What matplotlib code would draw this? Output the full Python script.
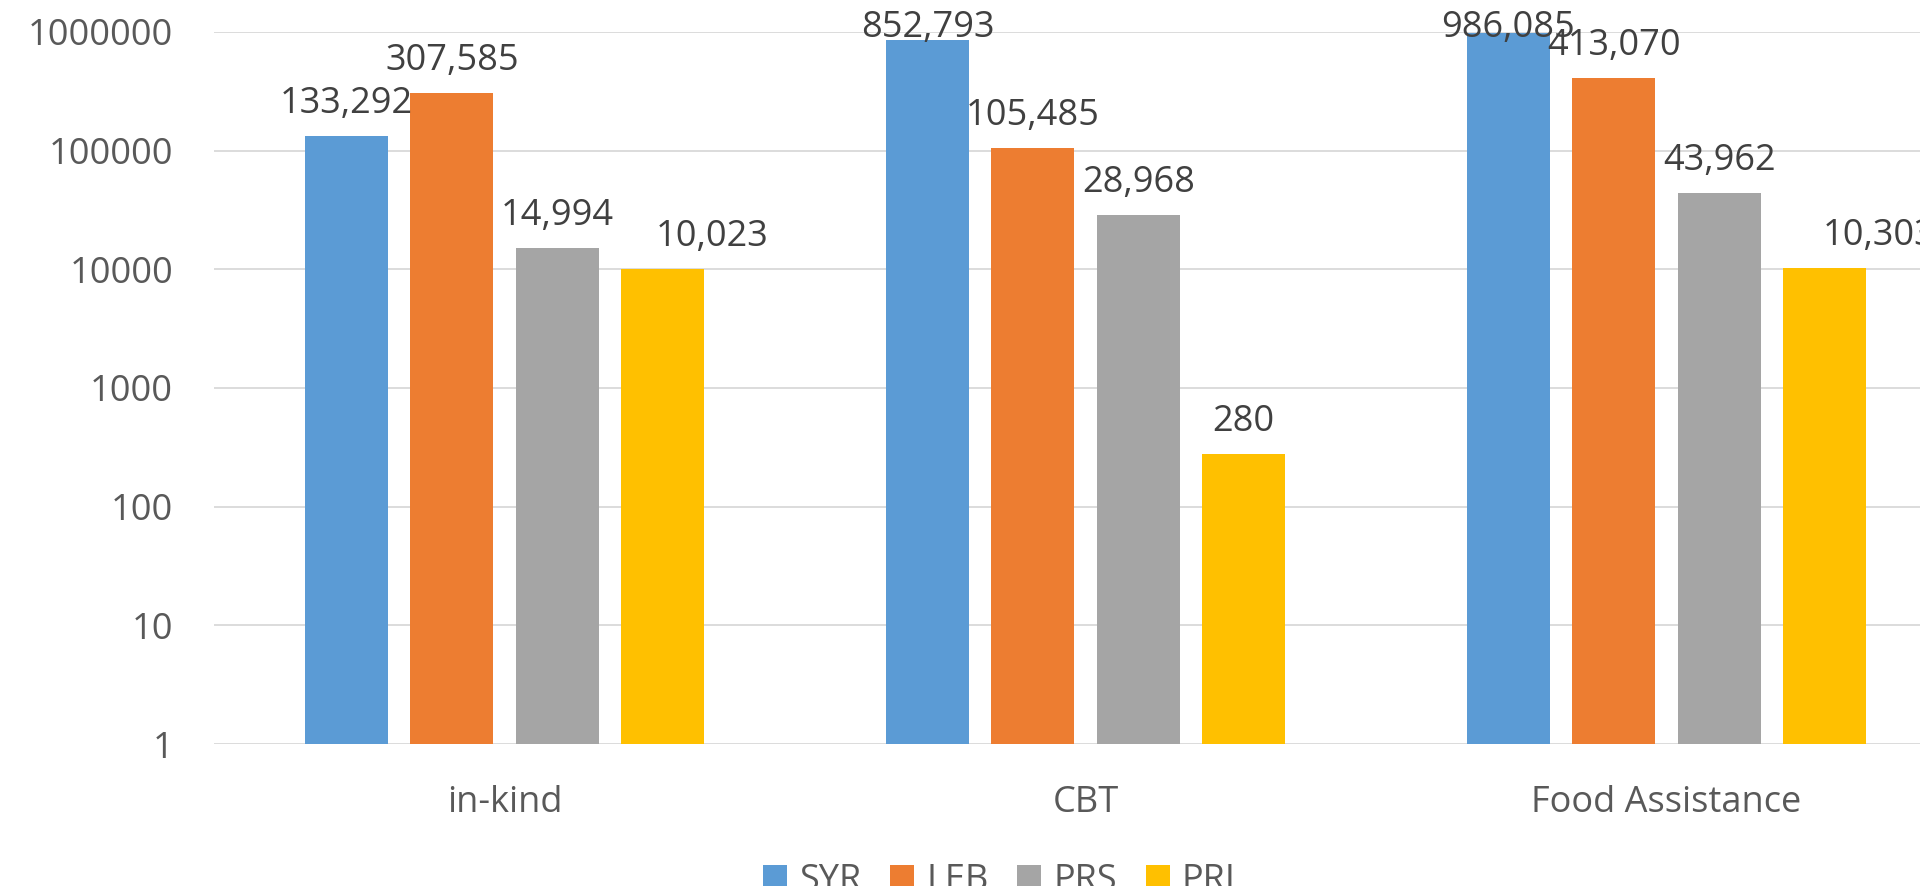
import matplotlib
matplotlib.use("Agg")
import matplotlib.pyplot as plt
import numpy as np
from matplotlib.patches import Patch
from matplotlib.ticker import NullLocator

# data
categories = ["in-kind", "CBT", "Food Assistance"]
series_names = ["SYR", "LEB", "PRS", "PRL"]
syr = [133292, 852793, 986085]
leb = [307585, 105485, 413070]
prs = [14994, 28968, 43962]
prl = [10023, 280, 10303]
y_ticks = [1, 10, 100, 1000, 10000, 100000, 1000000]
y_tick_labels = ["1", "10", "100", "1000", "10000", "100000", "1000000"]

colors = ["#5B9BD5", "#ED7D31", "#A5A5A5", "#FFC000"]

plt.rcParams["font.family"] = ["Open Sans", "DejaVu Sans"]

W, H = 1920, 886
fig = plt.figure(figsize=(W / 100, H / 100), dpi=100)
# plot area runs past the right edge, like the cropped original
ax = fig.add_axes([214 / W, (H - 744) / H, (1957 - 214) / W, (744 - 32) / H])

ax.set_yscale("log")
ax.set_ylim(1, 1000000)
ax.set_xlim(-0.5, 2.5)

x = np.arange(len(categories))
bar_w = 0.1427
step = 0.1814
all_series = [syr, leb, prs, prl]

label_gap = 23      # px between bar top and label baseline
top_baseline = 37   # labels can't go higher than this (px from top)
# a couple of labels were dragged sideways in the original (px)
label_nudge = {(3, 0): 50, (3, 2): 54}

for i, (name, vals) in enumerate(zip(series_names, all_series)):
    pos = x + (i - 1.5) * step
    ax.bar(pos, vals, width=bar_w, color=colors[i], label=name, zorder=2)
    for j, (px, v) in enumerate(zip(pos, vals)):
        bar_top = H - ax.transData.transform((px, v))[1]
        base = max(bar_top - label_gap, top_baseline)
        off_y = (bar_top - base) * 72 / 100
        off_x = label_nudge.get((i, j), 0) * 72 / 100
        ax.annotate(f"{v:,}", (px, v), xytext=(off_x, off_y), textcoords="offset points",
                    ha="center", va="baseline", fontsize=26, color="#404040",
                    zorder=3, annotation_clip=False)

ax.set_yticks(y_ticks)
ax.set_yticklabels(y_tick_labels)
ax.yaxis.set_minor_locator(NullLocator())
ax.set_xticks(x)
ax.set_xticklabels(categories)
ax.tick_params(axis="y", length=0, pad=29.5, labelsize=26, labelcolor="#595959")
ax.tick_params(axis="x", length=0, pad=29.5, labelsize=26, labelcolor="#595959")

ax.grid(axis="y", color="#D9D9D9", linewidth=1.3, zorder=0)
ax.set_axisbelow(True)
for s in ax.spines.values():
    s.set_visible(False)

handles = [Patch(facecolor=c, edgecolor="none") for c in colors]
fig.legend(handles, series_names, loc="upper left",
           bbox_to_anchor=(763 / W, (H - 863) / H), ncol=4, frameon=False,
           fontsize=26, labelcolor="#595959", borderpad=0, borderaxespad=0,
           handlelength=0.667, handleheight=0.667, handletextpad=0.33,
           columnspacing=0.8)

fig.savefig("out.png", dpi=100)
